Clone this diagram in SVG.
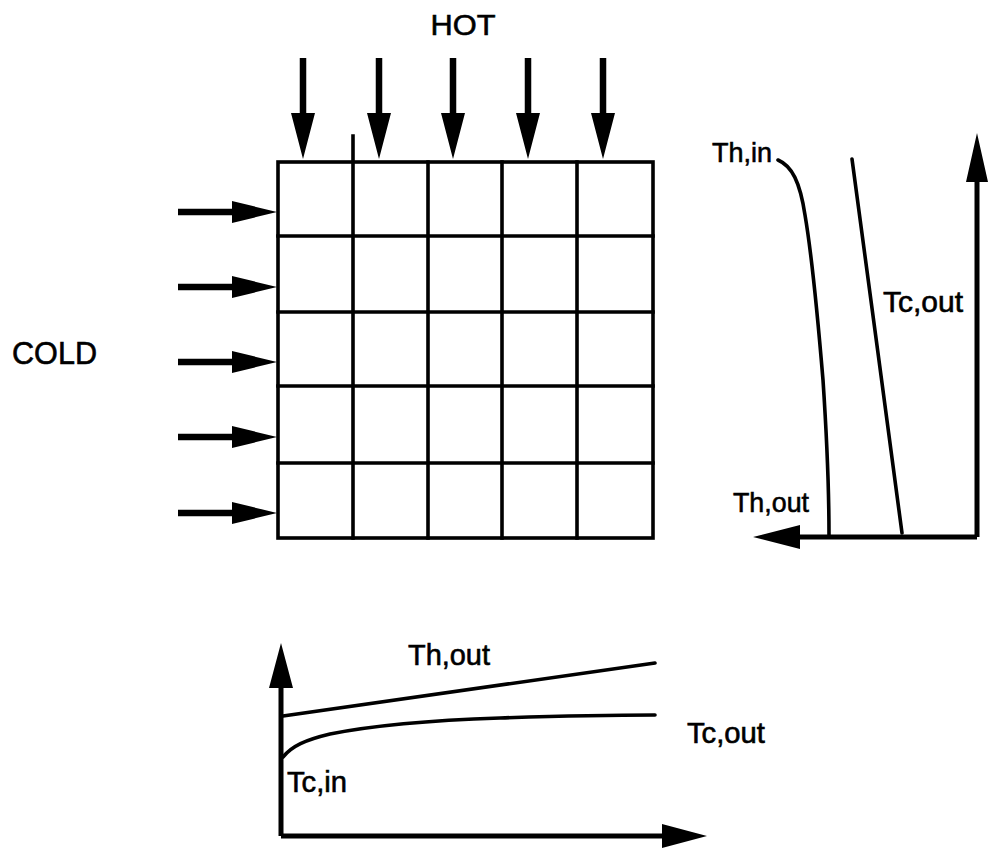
<svg xmlns="http://www.w3.org/2000/svg" width="989" height="864" viewBox="0 0 989 864">
<style>
.bg{fill:#fff}
.grid{fill:none;stroke:#000;stroke-width:3.6;stroke-linecap:square}
.shaft{stroke:#000;stroke-width:6.5;fill:none}
.head{fill:#000;stroke:none}
.axis{stroke:#000;stroke-width:5;fill:none}
.curve{stroke:#000;stroke-width:3.6;fill:none;stroke-linecap:round}
.lbl{font-family:"Liberation Sans",Arial,sans-serif;fill:#000;stroke:#000;stroke-width:0.6}
</style>
<rect class="bg" x="0" y="0" width="989" height="864"/>

<g id="hot-label"><text class="lbl" x="463" y="35" font-size="29" text-anchor="middle" textLength="65" lengthAdjust="spacingAndGlyphs">HOT</text></g>
<g id="cold-label"><text class="lbl" x="12" y="364" font-size="32" textLength="85" lengthAdjust="spacingAndGlyphs">COLD</text></g>

<g id="grid">
<rect class="grid" x="278" y="162" width="375" height="376"/>
<path class="grid" d="M353 136V538M428 162V538M502 162V538M577 162V538M278 236H653M278 312H653M278 386H653M278 463H653"/>
</g>

<g id="connectors">
<g id="hot-arrows">
<path class="shaft" d="M303 58V114M379 58V114M453 58V114M528 58V114M603 58V114"/>
<path class="head" d="M291 113H315L303 159ZM367 113H391L379 159ZM441 113H465L453 159ZM516 113H540L528 159ZM591 113H615L603 159Z"/>
</g>
<g id="cold-arrows">
<path class="shaft" d="M178 212H234M178 287H234M178 362H234M178 437H234M178 513H234"/>
<path class="head" d="M232 201V223L277 212ZM232 276V298L277 287ZM232 351V373L277 362ZM232 426V448L277 437ZM232 502V524L277 513Z"/>
</g>
</g>

<g id="graph-right">
<path class="axis" d="M977 537V175M977 537H795"/>
<path class="head" d="M966 182H988L977 133ZM800 525V549L753 537Z"/>
<path class="curve" d="M778 160C792 166 800 182 805 215C813 262 818 320 823 380C827 440 829 490 829 535"/>
<path class="curve" d="M852 159L878 353L902 533"/>
<text class="lbl" x="712" y="162" font-size="28" textLength="60" lengthAdjust="spacingAndGlyphs">Th,in</text>
<text class="lbl" x="883" y="312" font-size="29" textLength="80" lengthAdjust="spacingAndGlyphs">Tc,out</text>
<text class="lbl" x="733" y="512" font-size="28" textLength="76" lengthAdjust="spacingAndGlyphs">Th,out</text>
</g>

<g id="graph-bottom">
<path class="axis" d="M281 836V685M281 836H665"/>
<path class="head" d="M269 688H293L281 643ZM662 824V848L707 836Z"/>
<path class="curve" d="M283 716L655 663"/>
<path class="curve" d="M283 757C292 746 305 740 330 734C380 724 440 720 500 718C560 716 610 715 655 715"/>
<text class="lbl" x="408" y="665" font-size="29" textLength="82" lengthAdjust="spacingAndGlyphs">Th,out</text>
<text class="lbl" x="687" y="743" font-size="29" textLength="78" lengthAdjust="spacingAndGlyphs">Tc,out</text>
<text class="lbl" x="287" y="792" font-size="29" textLength="60" lengthAdjust="spacingAndGlyphs">Tc,in</text>
</g>
</svg>
